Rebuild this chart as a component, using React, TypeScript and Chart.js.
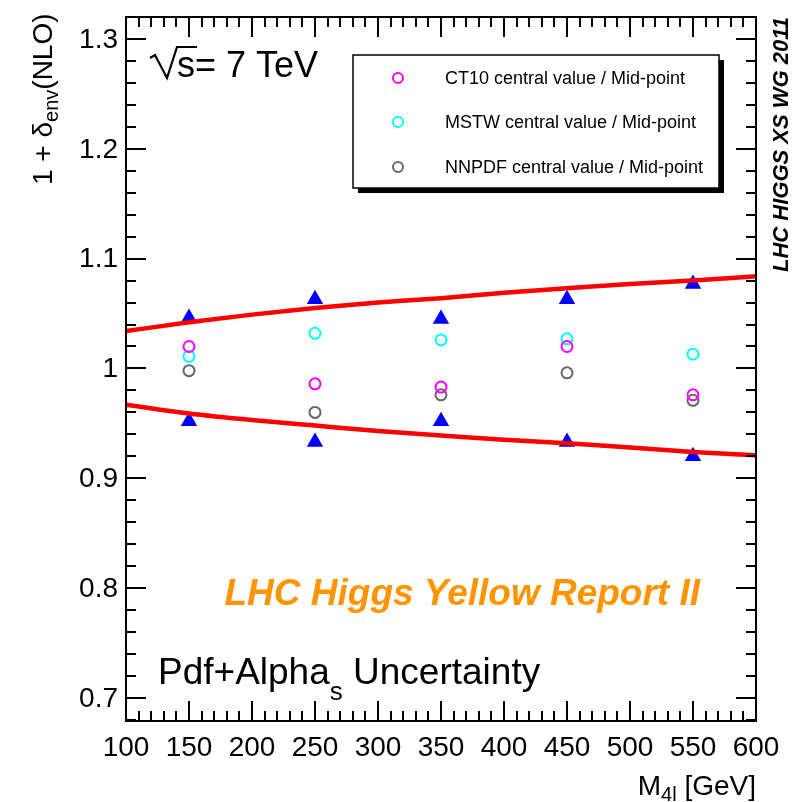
import { useEffect, useRef } from 'react';
import { Chart, registerables } from 'chart.js';

Chart.register(...registerables);

// Higgs masses where the PDF sets were evaluated
const masses = [150, 250, 350, 450, 550];
// Envelope maximum / minimum (blue triangles)
const envelopeUp = [1.046, 1.063, 1.045, 1.063, 1.077];
const envelopeDown = [0.952, 0.933, 0.952, 0.933, 0.92];
// Central values normalised to the mid-point
const ct10 = [1.02, 0.986, 0.983, 1.02, 0.976];
const mstw = [1.011, 1.032, 1.026, 1.027, 1.013];
const nnpdf = [0.998, 0.96, 0.976, 0.996, 0.971];
// Smooth fits of the envelope (red curves)
const fitMasses = [100, 150, 200, 250, 300, 350, 400, 450, 500, 550, 600];
const fitUp = [1.034, 1.042, 1.049, 1.055, 1.06, 1.064, 1.069, 1.073, 1.077, 1.08, 1.084];
const fitDown = [0.967, 0.959, 0.953, 0.948, 0.943, 0.939, 0.935, 0.932, 0.928, 0.924, 0.921];

// Axis labels
const xTickLabels = ['100', '150', '200', '250', '300', '350', '400', '450', '500', '550', '600'];
const yTickLabels = ['0.7', '0.8', '0.9', '1', '1.1', '1.2', '1.3'];
const X_MIN = 100;
const X_MAX = 600;
const Y_MIN = 0.679;
const Y_MAX = 1.32;

const FONT = '"Liberation Sans", Arial, Helvetica, sans-serif';

type Seg = { t: string; sub?: boolean };

function segFont(size: number, style: string, sub?: boolean) {
  const s = sub ? Math.round(size * 0.7) : size;
  return `${style} ${s}px ${FONT}`.trim();
}

function richWidth(ctx: CanvasRenderingContext2D, segs: Seg[], size: number, style: string) {
  let w = 0;
  for (const s of segs) {
    ctx.font = segFont(size, style, s.sub);
    w += ctx.measureText(s.t).width;
  }
  return w;
}

function drawRich(
  ctx: CanvasRenderingContext2D,
  segs: Seg[],
  x: number,
  y: number,
  size: number,
  style: string,
  align: 'left' | 'right' | 'center',
  subDrop: number
) {
  const w = richWidth(ctx, segs, size, style);
  let cx = align === 'left' ? x : align === 'right' ? x - w : x - w / 2;
  ctx.textAlign = 'left';
  ctx.textBaseline = 'alphabetic';
  for (const s of segs) {
    ctx.font = segFont(size, style, s.sub);
    ctx.fillText(s.t, cx, s.sub ? y + subDrop : y);
    cx += ctx.measureText(s.t).width;
  }
}

const rootStyle = {
  id: 'rootStyle',
  afterDatasetsDraw(chart: any) {
    const ctx: CanvasRenderingContext2D = chart.ctx;
    const { left, right, top, bottom } = chart.chartArea;
    const xs = chart.scales.x;
    const ys = chart.scales.y;
    ctx.save();
    ctx.strokeStyle = '#000';
    ctx.fillStyle = '#000';

    // ticks on all four sides, pointing inwards
    ctx.lineWidth = 2;
    ctx.beginPath();
    for (let v = X_MIN; v <= X_MAX; v += 10) {
      const px = Math.round(xs.getPixelForValue(v));
      const len = v % 50 === 0 ? 20 : 10;
      ctx.moveTo(px, bottom);
      ctx.lineTo(px, bottom - len);
      ctx.moveTo(px, top);
      ctx.lineTo(px, top + len);
    }
    for (let k = 34; k <= 66; k++) {
      const v = k * 0.02;
      if (v < Y_MIN - 1e-9 || v > Y_MAX + 1e-9) continue;
      const py = Math.round(ys.getPixelForValue(v));
      const len = k % 5 === 0 ? 20 : 10;
      ctx.moveTo(left, py);
      ctx.lineTo(left + len, py);
      ctx.moveTo(right, py);
      ctx.lineTo(right - len, py);
    }
    ctx.stroke();

    // frame
    ctx.lineWidth = 2;
    ctx.strokeRect(left, top, right - left, bottom - top);

    // tick labels
    ctx.font = `28px ${FONT}`;
    ctx.textAlign = 'center';
    ctx.textBaseline = 'top';
    for (const lab of xTickLabels) {
      ctx.fillText(lab, xs.getPixelForValue(Number(lab)), bottom + 13);
    }
    ctx.textAlign = 'right';
    ctx.textBaseline = 'middle';
    for (const lab of yTickLabels) {
      ctx.fillText(lab, left - 8, ys.getPixelForValue(Number(lab)) + 1);
    }

    // axis titles
    drawRich(ctx, [{ t: 'M' }, { t: '4l', sub: true }, { t: ' [GeV]' }], right, 795, 28, '', 'right', 6);
    ctx.save();
    ctx.translate(52, 185);
    ctx.rotate(-Math.PI / 2);
    drawRich(ctx, [{ t: '1 + δ' }, { t: 'env', sub: true }, { t: '(NLO)' }], 0, 0, 28, '', 'left', 6);
    ctx.restore();

    // sqrt(s) = 7 TeV
    ctx.lineWidth = 2.2;
    ctx.beginPath();
    ctx.moveTo(150, 58);
    ctx.lineTo(155, 55);
    ctx.lineTo(167, 78);
    ctx.lineTo(177, 47);
    ctx.lineTo(197, 47);
    ctx.stroke();
    ctx.font = `36px ${FONT}`;
    ctx.textAlign = 'left';
    ctx.textBaseline = 'alphabetic';
    ctx.fillText('s= 7 TeV', 177, 77);

    // uncertainty label
    drawRich(ctx, [{ t: 'Pdf+Alpha' }, { t: 's', sub: true }, { t: ' Uncertainty' }], 158, 684, 37, '', 'left', 16);

    // report label
    ctx.fillStyle = '#ff9400';
    ctx.font = `italic bold 37px ${FONT}`;
    ctx.textAlign = 'right';
    ctx.fillText('LHC Higgs Yellow Report II', 700, 605);

    // working group stamp
    ctx.fillStyle = '#000';
    ctx.save();
    ctx.translate(788, 272);
    ctx.rotate(-Math.PI / 2);
    ctx.font = `italic bold 22px ${FONT}`;
    ctx.textAlign = 'left';
    ctx.fillText('LHC HIGGS XS WG 2011', 0, 0);
    ctx.restore();

    // legend box with shadow
    const lx = 353, ly = 55, lw = 366, lh = 133;
    ctx.fillStyle = '#000';
    ctx.fillRect(lx + 5, ly + 5, lw, lh);
    ctx.fillStyle = '#fff';
    ctx.fillRect(lx, ly, lw, lh);
    ctx.lineWidth = 1.5;
    ctx.strokeStyle = '#000';
    ctx.strokeRect(lx, ly, lw, lh);
    const rows = [78, 122, 167];
    const entries = chart.data.datasets.filter((d: any) => d.inLegend);
    entries.forEach((d: any, i: number) => {
      const y = rows[i];
      ctx.beginPath();
      ctx.arc(398, y, 5, 0, Math.PI * 2);
      ctx.lineWidth = 2;
      ctx.strokeStyle = d.borderColor;
      ctx.stroke();
      ctx.fillStyle = '#000';
      ctx.font = `18px ${FONT}`;
      ctx.textAlign = 'left';
      ctx.textBaseline = 'middle';
      ctx.fillText(d.label, 445, y + 1);
    });
    ctx.restore();
  },
};

function pts(xv: number[], yv: number[]) {
  return xv.map((x, i) => ({ x, y: yv[i] }));
}

function circleSet(label: string, color: string, values: number[]) {
  return {
    type: 'scatter' as const,
    label,
    inLegend: true,
    data: pts(masses, values),
    showLine: false,
    pointStyle: 'circle',
    pointRadius: 5.5,
    pointBorderWidth: 2,
    borderColor: color,
    pointBorderColor: color,
    pointBackgroundColor: 'rgba(0,0,0,0)',
    order: 2,
  };
}

function triangleSet(label: string, values: number[]) {
  return {
    type: 'scatter' as const,
    label,
    data: pts(masses, values),
    showLine: false,
    pointStyle: 'triangle',
    pointRadius: 9.5,
    pointBorderWidth: 0,
    pointBackgroundColor: '#0000ff',
    pointBorderColor: '#0000ff',
    order: 3,
  };
}

function fitSet(label: string, values: number[]) {
  return {
    type: 'line' as const,
    label,
    data: pts(fitMasses, values),
    borderColor: '#ff0000',
    borderWidth: 4.5,
    pointRadius: 0,
    cubicInterpolationMode: 'monotone' as const,
    fill: false,
    order: 1,
  };
}

export default function App() {
  const ref = useRef<HTMLCanvasElement | null>(null);

  useEffect(() => {
    if (!ref.current) return;
    const chart = new Chart(ref.current, {
      type: 'scatter',
      data: {
        datasets: [
          triangleSet('Envelope max', envelopeUp),
          triangleSet('Envelope min', envelopeDown),
          circleSet('CT10 central value / Mid-point', '#ff00ff', ct10),
          circleSet('MSTW central value / Mid-point', '#00ffff', mstw),
          circleSet('NNPDF central value / Mid-point', '#666666', nnpdf),
          fitSet('Upper fit', fitUp),
          fitSet('Lower fit', fitDown),
        ] as any,
      },
      options: {
        animation: false,
        responsive: false,
        devicePixelRatio: 1,
        layout: { padding: { left: 126, top: 17, right: 38, bottom: 81 } },
        plugins: { legend: { display: false }, tooltip: { enabled: false } },
        scales: {
          x: { type: 'linear', min: X_MIN, max: X_MAX, display: false },
          y: { type: 'linear', min: Y_MIN, max: Y_MAX, display: false },
        },
      },
      plugins: [rootStyle],
    });
    return () => chart.destroy();
  }, []);

  return (
    <div style={{ position: 'absolute', left: 0, top: 0, width: 794, height: 802, background: '#fff' }}>
      <canvas ref={ref} width={794} height={802} />
    </div>
  );
}
